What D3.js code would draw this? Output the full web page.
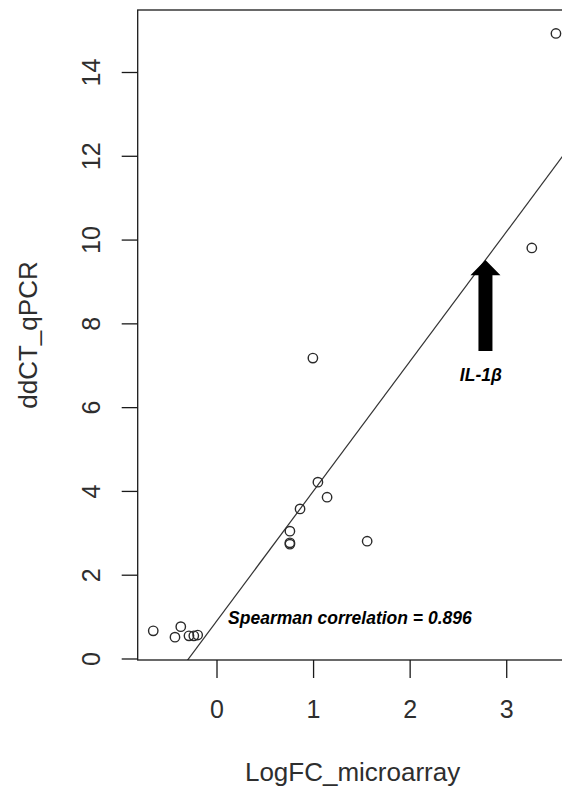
<!DOCTYPE html>
<html>
<head>
<meta charset="utf-8">
<script src="https://cdn.jsdelivr.net/npm/d3@7"></script>
<style>
  body { margin: 0; background: #ffffff; }
  text { font-family: "Liberation Sans", Arial, sans-serif; }
</style>
</head>
<body>
<script>
// values
var logFC = [-0.655, -0.43, -0.37, -0.285, -0.235, -0.195, 0.76, 0.76, 0.76,
             0.865, 0.998, 1.05, 1.145, 1.56, 3.265, 3.515];
var ddCT = [0.66, 0.51, 0.76, 0.54, 0.54, 0.56, 2.73, 2.76, 3.04,
            3.57, 7.17, 4.21, 3.85, 2.80, 9.80, 14.92];
var xTicks = [0, 1, 2, 3];
var yTicks = [0, 2, 4, 6, 8, 10, 12, 14];

// fitted line y = a + b * x
var fitIntercept = 0.889;
var fitSlope = 3.097;

// annotations (data units)
var corrLabel = "Spearman correlation = 0.896";
var corrPos = [0.12, 0.82];
var geneLabel = "IL-1\u03b2";
var genePos = [2.52, 6.62];
var arrowX = 2.785;
var arrowTip = 9.51;
var arrowHead = 9.15;
var arrowTail = 7.34;

window.onload = function() {
  var width = 562,
      height = 787;

  // plot box, right side runs past the picture
  var box = {left: 137.7, right: 571.5, top: 10, bottom: 660};

  var svg = d3.select("body")
              .append("svg")
              .attr("width", width)
              .attr("height", height);

  var xScale = d3.scaleLinear()
    .domain([-0.816, 3.676])
    .range([box.left, box.right]);

  var yScale = d3.scaleLinear()
    .domain([-0.036, 15.48])
    .range([box.bottom, box.top]);

  var ink = "#1a1a1a",
      label = "#2e2e2e";

  // clip for the fit line
  svg.append("clipPath")
     .attr("id", "plotclip")
     .append("rect")
     .attr("x", box.left)
     .attr("y", box.top)
     .attr("width", box.right - box.left)
     .attr("height", box.bottom - box.top);

  // regression line
  var xd = xScale.domain();
  svg.append("line")
     .attr("clip-path", "url(#plotclip)")
     .attr("x1", xScale(xd[0]))
     .attr("y1", yScale(fitIntercept + fitSlope * xd[0]))
     .attr("x2", xScale(xd[1]))
     .attr("y2", yScale(fitIntercept + fitSlope * xd[1]))
     .style("stroke", "#333")
     .style("stroke-width", 1.2);

  // points
  var dataset = [];
  for (var i = 0; i < logFC.length; i++) {
    dataset.push([logFC[i], ddCT[i]]);
  }
  svg.selectAll("circle.pt")
     .data(dataset)
     .enter()
     .append("circle")
     .attr("class", "pt")
     .attr("cx", function(d) { return xScale(d[0]); })
     .attr("cy", function(d) { return yScale(d[1]); })
     .attr("r", 4.7)
     .style("fill", "none")
     .style("stroke", "#2a2a2a")
     .style("stroke-width", 1.4);

  // axes
  var xAxis = d3.axisBottom(xScale).tickValues(xTicks).tickFormat(d3.format("d"))
                .tickSize(18).tickSizeOuter(0);
  var yAxis = d3.axisLeft(yScale).tickValues(yTicks).tickFormat(d3.format("d"))
                .tickSize(16).tickSizeOuter(0);

  var gx = svg.append("g")
     .attr("class", "x axis")
     .attr("transform", "translate(0," + box.bottom + ")")
     .call(xAxis);
  gx.select(".domain").remove();
  gx.selectAll("line").style("stroke", ink).style("stroke-width", 1.3);
  gx.selectAll("text")
    .attr("y", 58)
    .attr("dy", null)
    .style("font-size", "25px")
    .style("fill", label);

  var gy = svg.append("g")
     .attr("class", "y axis")
     .attr("transform", "translate(" + box.left + ",0)")
     .call(yAxis);
  gy.select(".domain").remove();
  gy.selectAll("line").style("stroke", ink).style("stroke-width", 1.3);
  gy.selectAll("text")
    .attr("x", null)
    .attr("dy", null)
    .attr("transform", "translate(-38,0) rotate(-90)")
    .style("text-anchor", "middle")
    .style("font-size", "25px")
    .style("fill", label);

  // box
  svg.append("rect")
     .attr("x", box.left)
     .attr("y", box.top)
     .attr("width", box.right - box.left)
     .attr("height", box.bottom - box.top)
     .style("fill", "none")
     .style("stroke", ink)
     .style("stroke-width", 1.3);

  // axis titles
  svg.append("text")
     .attr("x", (box.left + box.right) / 2 - 2)
     .attr("y", box.bottom + 121)
     .style("text-anchor", "middle")
     .style("font-size", "26px")
     .style("fill", label)
     .text("LogFC_microarray");

  svg.append("text")
     .attr("transform", "translate(37," + ((box.top + box.bottom) / 2) + ") rotate(-90)")
     .style("text-anchor", "middle")
     .style("font-size", "26px")
     .style("fill", label)
     .text("ddCT_qPCR");

  // arrow pointing at the gene
  var ax = xScale(arrowX),
      shaft = 7,
      head = 15;
  var p = d3.path();
  p.moveTo(ax, yScale(arrowTip));
  p.lineTo(ax + head, yScale(arrowHead));
  p.lineTo(ax + shaft, yScale(arrowHead));
  p.lineTo(ax + shaft, yScale(arrowTail));
  p.lineTo(ax - shaft, yScale(arrowTail));
  p.lineTo(ax - shaft, yScale(arrowHead));
  p.lineTo(ax - head, yScale(arrowHead));
  p.closePath();
  svg.append("path")
     .attr("d", p.toString())
     .style("fill", "#000");

  // annotation texts
  svg.append("text")
     .attr("x", xScale(genePos[0]))
     .attr("y", yScale(genePos[1]))
     .style("font-size", "17.5px")
     .style("font-weight", "bold")
     .style("font-style", "italic")
     .text(geneLabel);

  svg.append("text")
     .attr("x", xScale(corrPos[0]))
     .attr("y", yScale(corrPos[1]))
     .style("font-size", "17.5px")
     .style("font-weight", "bold")
     .style("font-style", "italic")
     .text(corrLabel);
};
</script>
</body>
</html>
